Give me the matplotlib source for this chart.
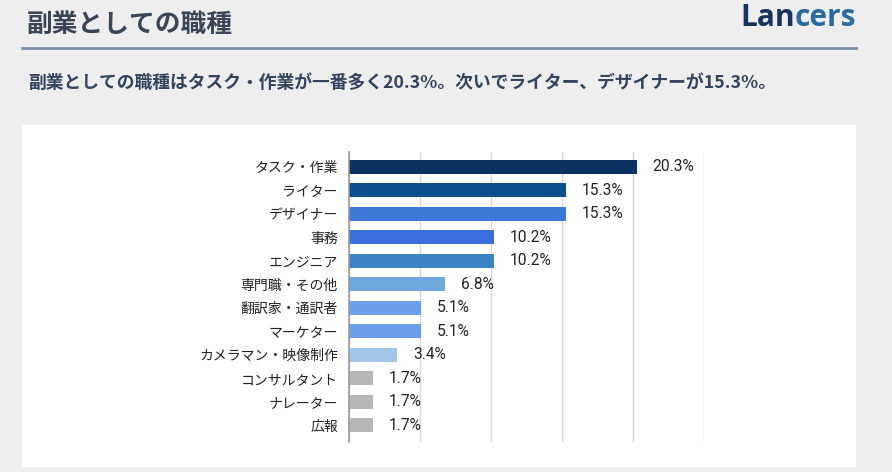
import matplotlib
matplotlib.use("Agg")
import matplotlib.pyplot as plt
from matplotlib.patches import Rectangle
from matplotlib.lines import Line2D

plt.rcParams['font.family'] = ['Noto Sans CJK JP', 'DejaVu Sans']

categories = ["タスク・作業", "ライター", "デザイナー", "事務", "エンジニア", "専門職・その他",
              "翻訳家・通訳者", "マーケター", "カメラマン・映像制作", "コンサルタント", "ナレーター", "広報"]
values = [20.3, 15.3, 15.3, 10.2, 10.2, 6.8, 5.1, 5.1, 3.4, 1.7, 1.7, 1.7]
colors = ["#0b3260", "#0d4e8f", "#3d79d9", "#3a6fdc", "#3d84c6", "#6fa8dc",
          "#6d9eeb", "#6d9eeb", "#a0c6ea", "#b7b7b7", "#b7b7b7", "#b7b7b7"]
xticks = [0, 5, 10, 15, 20, 25]

title = "副業としての職種"
subtitle = "副業としての職種はタスク・作業が一番多く20.3%。次いでライター、デザイナーが15.3%。"

W, H = 892, 472
fig = plt.figure(figsize=(W / 100, H / 100), dpi=100)
fig.patch.set_facecolor("#eeeeee")

def fx(px):
    return px / W

def fy(py):
    return 1 - py / H

# white panel
fig.patches.append(Rectangle((fx(22), fy(467)), fx(856) - fx(22), fy(125) - fy(467),
                             transform=fig.transFigure, facecolor="white", edgecolor="none", zorder=-10))

# header
fig.text(fx(27), fy(24), title, fontsize=18.5, color="#3a4658", va="center", ha="left", fontweight="bold")
fig.lines.append(Line2D([fx(22), fx(856)], [fy(48), fy(48)], transform=fig.transFigure,
                        color="#7d90ab", linewidth=2))
fig.text(fx(28), fy(83), subtitle, fontsize=12.8, color="#33445f", va="center", ha="left", fontweight="bold")

# logo
fig.text(fx(795), fy(18), "Lan", fontsize=21.5, color="#17325e", va="center", ha="right",
         family="Open Sans", fontweight="bold")
fig.text(fx(795), fy(18), "cers", fontsize=21.5, color="#2a6aa3", va="center", ha="left",
         family="Open Sans", fontweight="bold")

ax = fig.add_axes([fx(349), fy(442), fx(703.5) - fx(349), fy(152) - fy(442)])
ax.set_facecolor("none")
ypos = list(range(len(categories)))
ax.barh(ypos, values, height=0.6, color=colors, zorder=3)
ax.set_xlim(0, 25)
ax.set_ylim(len(categories) - 1 + 0.71, -0.63)
ax.set_xticks(xticks)
ax.set_xticklabels([])
ax.tick_params(axis="x", length=0)
ax.set_yticks(ypos)
ax.set_yticklabels(categories, fontsize=10, color="#222222")
ax.tick_params(axis="y", length=0, pad=8)
ax.grid(axis="x", color="#d9d9d9", linewidth=1, zorder=0)
for s in ["top", "right", "bottom"]:
    ax.spines[s].set_visible(False)
ax.spines["left"].set_color("#999999")
ax.spines["left"].set_linewidth(1.2)
ax.spines["left"].set_zorder(4)

for y, v in zip(ypos, values):
    ax.text(v + 1.1, y, f"{v:.1f}%", va="center", ha="left", fontsize=11.2, color="#222222",
            family="Roboto")

fig.savefig("out.png", dpi=100, facecolor=fig.get_facecolor())
